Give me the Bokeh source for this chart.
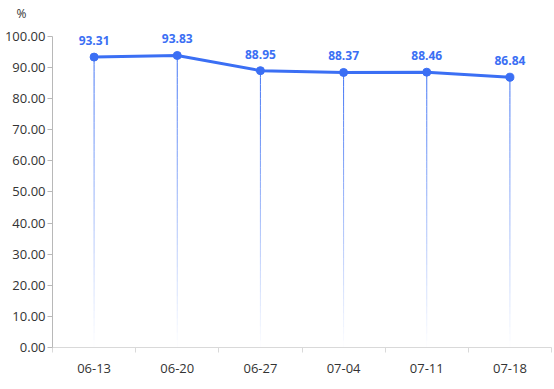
from bokeh.plotting import figure
from bokeh.models import Range1d, FixedTicker, ColumnDataSource, CustomJSTickFormatter
from bokeh.core.properties import value
from bokeh.embed import file_html
from bokeh.resources import INLINE

dates = ["06-13", "06-20", "06-27", "07-04", "07-11", "07-18"]
values = [93.31, 93.83, 88.95, 88.37, 88.46, 86.84]
y_ticks = [0, 10, 20, 30, 40, 50, 60, 70, 80, 90, 100]
unit = "%"

BLUE = "#3b6ff4"
FONT = "Open Sans"

xs = [i + 0.5 for i in range(len(dates))]

p = figure(width=552, height=381, output_backend="svg", toolbar_location=None,
           x_range=Range1d(0, len(dates)), y_range=Range1d(0, 104.1),
           min_border_left=52, min_border_right=1, min_border_top=0, min_border_bottom=34,
           title=unit)
p.title.align = "left"
p.title.offset = -36
p.title.text_font = FONT
p.title.text_font_size = "12px"
p.title.text_font_style = "normal"
p.title.text_color = "#333333"
p.title.standoff = 4
p.outline_line_color = None
p.xgrid.visible = False
p.ygrid.visible = False
p.background_fill_color = "white"

# gradient drop lines
N = 40
x0s, y0s, x1s, y1s, alphas = [], [], [], [], []
for x, v in zip(xs, values):
    for k in range(N):
        ya = v * (1 - k / N)
        yb = v * (1 - (k + 1) / N)
        x0s.append(x); x1s.append(x); y0s.append(ya); y1s.append(yb)
        alphas.append(max(0.0, 1 - (k + 0.5) / N))
p.segment(x0s, y0s, x1s, y1s, line_color=BLUE, line_alpha=alphas, line_width=1)

src = ColumnDataSource(dict(x=xs, y=values, t=[f"{v:.2f}" for v in values]))
p.line("x", "y", source=src, line_color=BLUE, line_width=3)
p.scatter("x", "y", source=src, size=8, fill_color=BLUE, line_color=BLUE)
p.text("x", "y", text="t", source=src, text_align="center", text_baseline="bottom",
       y_offset=-12, text_color=BLUE, text_font_size="12px", text_font_style="bold",
       text_font=value(FONT))

# x axis
xa = p.xaxis[0]
xa.ticker = FixedTicker(ticks=xs, minor_ticks=list(range(len(dates) + 1)))
xa.major_label_overrides = {x: d for x, d in zip(xs, dates)}
xa.major_tick_line_color = None
xa.minor_tick_line_color = "#d9d9d9"
xa.minor_tick_in = 0
xa.minor_tick_out = 5
xa.axis_line_color = "#d9d9d9"
xa.major_label_text_font = FONT
xa.major_label_text_font_size = "13px"
xa.major_label_text_color = "#333333"
xa.major_label_standoff = 10

ya_ = p.yaxis[0]
ya_.ticker = FixedTicker(ticks=y_ticks)
ya_.bounds = (0, 100)
ya_.formatter = CustomJSTickFormatter(code="return tick.toFixed(2);")
ya_.axis_line_color = "#b8b8b8"
ya_.major_tick_line_color = "#b8b8b8"
ya_.major_tick_in = 0
ya_.major_tick_out = 5
ya_.minor_tick_line_color = None
ya_.major_label_text_font = FONT
ya_.major_label_text_font_size = "13px"
ya_.major_label_text_color = "#333333"
ya_.major_label_standoff = 2

open("out.html", "w").write(file_html(p, INLINE))
